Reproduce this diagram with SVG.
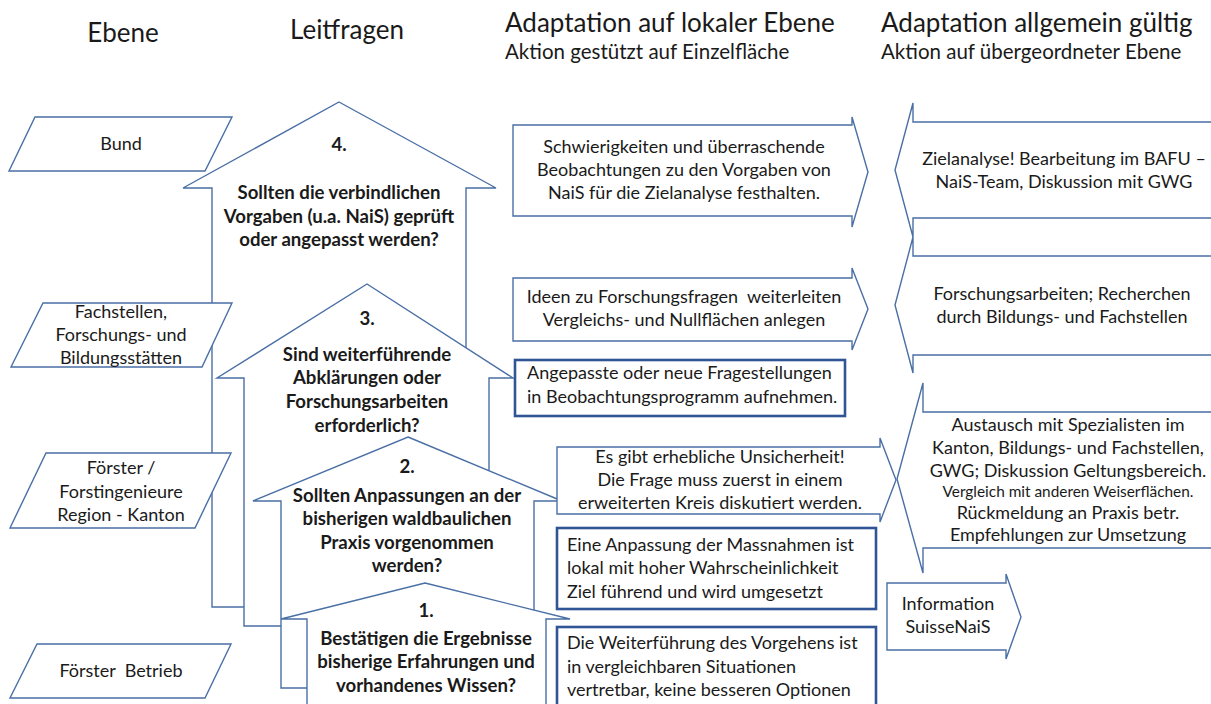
<svg xmlns="http://www.w3.org/2000/svg" width="1211" height="704" viewBox="0 0 1211 704">
<style>
.s{fill:#fff;stroke:#4a6fa5;stroke-width:1.4;stroke-linejoin:miter}
.k{fill:#fff;stroke:#2f5597;stroke-width:2.6}
text{font-family:Lato,"Open Sans","Liberation Sans",sans-serif;fill:#1a1a1a;white-space:pre}
.hd{font-size:26px}
.sb{font-size:20.5px}
.n{font-size:18px}
.b{font-size:18.6px;font-weight:bold}
.sm{font-size:15.4px}
.m{text-anchor:middle}
</style>
<rect width="1211" height="704" fill="#fff"/>
<g id="headers">
<text class="hd m" x="123" y="42">Ebene</text>
<text class="hd m" x="347" y="39">Leitfragen</text>
<text class="hd" x="505" y="32">Adaptation auf lokaler Ebene</text>
<text class="sb" x="505" y="59">Aktion gestützt auf Einzelfläche</text>
<text class="hd" x="881" y="32">Adaptation allgemein gültig</text>
<text class="sb" x="881" y="59">Aktion auf übergeordneter Ebene</text>
</g>
<g id="frage4">
<polygon class="s" points="339,102 496,188 466,188 466,607 212,607 212,188 183,188"/>
<text class="b m" x="339" y="151">4.</text>
<text class="b m" x="339" y="199">Sollten die verbindlichen</text>
<text class="b m" x="339" y="223">Vorgaben (u.a. NaiS) geprüft</text>
<text class="b m" x="339" y="246">oder angepasst werden?</text>
</g>
<g id="frage3">
<polygon class="s" points="367,284 513,378 489,378 489,626 244,626 244,378 217,378"/>
<text class="b m" x="367" y="325">3.</text>
<text class="b m" x="367" y="361">Sind weiterführende</text>
<text class="b m" x="367" y="384">Abklärungen oder</text>
<text class="b m" x="367" y="408">Forschungsarbeiten</text>
<text class="b m" x="367" y="432">erforderlich?</text>
</g>
<g id="frage2">
<polygon class="s" points="408,437 562,501 534,501 534,688 281,688 281,501 253,501"/>
<text class="b m" x="407" y="473">2.</text>
<text class="b m" x="407" y="502">Sollten Anpassungen an der</text>
<text class="b m" x="407" y="525">bisherigen waldbaulichen</text>
<text class="b m" x="407" y="549">Praxis vorgenommen</text>
<text class="b m" x="407" y="572">werden?</text>
</g>
<g id="frage1">
<polygon class="s" points="425,583 570,619 546,619 546,720 307,720 307,619 281,619"/>
<text class="b m" x="426" y="617">1.</text>
<text class="b m" x="426" y="645">Bestätigen die Ergebnisse</text>
<text class="b m" x="426" y="668">bisherige Erfahrungen und</text>
<text class="b m" x="426" y="692">vorhandenes Wissen?</text>
</g>
<g id="ebene-bund">
<polygon class="s" points="35,117 232,117 205,171 9,171"/>
<text class="n m" x="121" y="150">Bund</text>
</g>
<g id="ebene-fachstellen">
<polygon class="s" points="43,303 232,303 202,367 11,367"/>
<text class="n m" x="121" y="318">Fachstellen,</text>
<text class="n m" x="121" y="341">Forschungs- und</text>
<text class="n m" x="121" y="364">Bildungsstätten</text>
</g>
<g id="ebene-kanton">
<polygon class="s" points="46,453 231,453 195,528 10,528"/>
<text class="n m" x="121" y="474">Förster /</text>
<text class="n m" x="121" y="498">Forstingenieure</text>
<text class="n m" x="121" y="521">Region - Kanton</text>
</g>
<g id="ebene-betrieb">
<polygon class="s" points="37,644 231,644 205,698 10,698"/>
<text class="n m" x="121" y="677">Förster  Betrieb</text>
</g>
<g id="lokal-schwierigkeiten">
<polygon class="s" points="513,125 852,125 852,117 868,172 852,227 852,216 513,216"/>
<text class="n m" x="684" y="153">Schwierigkeiten und überraschende</text>
<text class="n m" x="684" y="176">Beobachtungen zu den Vorgaben von</text>
<text class="n m" x="684" y="199">NaiS für die Zielanalyse festhalten.</text>
</g>
<g id="lokal-ideen">
<polygon class="s" points="513,278 852,278 852,268 868,309 852,350 852,341 513,341"/>
<text class="n m" x="684" y="303">Ideen zu Forschungsfragen  weiterleiten</text>
<text class="n m" x="684" y="326">Vergleichs- und Nullflächen anlegen</text>
</g>
<g id="lokal-angepasste">
<rect class="k" x="515" y="360" width="330" height="56"/>
<text class="n" x="527" y="379">Angepasste oder neue Fragestellungen</text>
<text class="n" x="527" y="403">in Beobachtungsprogramm aufnehmen.</text>
</g>
<g id="lokal-unsicherheit">
<polygon class="s" points="557,447 880,447 880,438 896,480 880,522 880,514 557,514"/>
<text class="n m" x="720" y="463">Es gibt erhebliche Unsicherheit!</text>
<text class="n m" x="720" y="486">Die Frage muss zuerst in einem</text>
<text class="n m" x="720" y="509">erweiterten Kreis diskutiert werden.</text>
</g>
<g id="lokal-anpassung">
<rect class="k" x="557" y="528" width="319" height="81"/>
<text class="n" x="567" y="551">Eine Anpassung der Massnahmen ist</text>
<text class="n" x="567" y="574">lokal mit hoher Wahrscheinlichkeit</text>
<text class="n" x="567" y="598">Ziel führend und wird umgesetzt</text>
</g>
<g id="lokal-weiterfuehrung">
<rect class="k" x="557" y="627" width="319" height="100"/>
<text class="n" x="567" y="649">Die Weiterführung des Vorgehens ist</text>
<text class="n" x="567" y="673">in vergleichbaren Situationen</text>
<text class="n" x="567" y="696">vertretbar, keine besseren Optionen</text>
</g>
<g id="info-suissenais">
<polygon class="s" points="887,583 1006,583 1006,574 1021,617 1006,659 1006,650 887,650"/>
<text class="n m" x="948" y="610">Information</text>
<text class="n m" x="948" y="633">SuisseNaiS</text>
</g>
<g id="allg-zielanalyse">
<polygon class="s" points="1216,122 913,122 913,103 895,170 913,237 913,218 1216,218"/>
<text class="n m" x="1064" y="165">Zielanalyse! Bearbeitung im BAFU –</text>
<text class="n m" x="1064" y="188">NaiS-Team, Diskussion mit GWG</text>
</g>
<g id="allg-forschung">
<polygon class="s" points="1216,256 913,256 913,237 895,305 913,373 913,355 1216,355"/>
<text class="n m" x="1062" y="300">Forschungsarbeiten; Recherchen</text>
<text class="n m" x="1062" y="323">durch Bildungs- und Fachstellen</text>
</g>
<g id="allg-austausch">
<polygon class="s" points="1216,412 923,412 923,383 897,479 923,573 923,548 1216,548"/>
<text class="n m" x="1068" y="431">Austausch mit Spezialisten im</text>
<text class="n m" x="1068" y="454">Kanton, Bildungs- und Fachstellen,</text>
<text class="n m" x="1068" y="477">GWG; Diskussion Geltungsbereich.</text>
<text class="sm m" x="1068" y="497">Vergleich mit anderen Weiserflächen.</text>
<text class="n m" x="1068" y="519">Rückmeldung an Praxis betr.</text>
<text class="n m" x="1068" y="541">Empfehlungen zur Umsetzung</text>
</g>
<g id="connectors"/>
</svg>
